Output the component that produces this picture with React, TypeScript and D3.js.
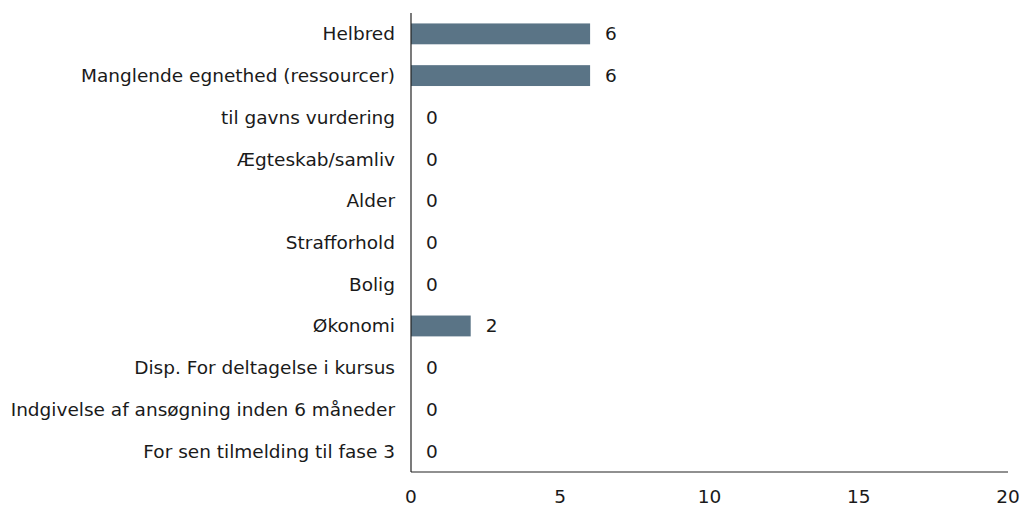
import React from 'react';
import { scaleBand, scaleLinear } from 'd3';

const categories = [
  'Helbred',
  'Manglende egnethed (ressourcer)',
  'til gavns vurdering',
  'Ægteskab/samliv',
  'Alder',
  'Strafforhold',
  'Bolig',
  'Økonomi',
  'Disp. For deltagelse i kursus',
  'Indgivelse af ansøgning inden 6 måneder',
  'For sen tilmelding til fase 3',
];
const values = [6, 6, 0, 0, 0, 0, 0, 2, 0, 0, 0];
const xTicks = [0, 5, 10, 15, 20];

const W = 1021;
const H = 509;
const FONT = 'Tahoma, "DejaVu Sans", sans-serif';
const FS = 18.5;

function App() {
  const x = scaleLinear().domain([0, 20]).range([411, 1008]);
  const y = scaleBand().domain(categories).range([13, 472]).paddingInner(0.5).paddingOuter(0.25);
  const bottom = 472;

  return (
    <svg width={W} height={H} style={{ position: 'absolute', left: 0, top: 0 }}>
      <rect width={W} height={H} fill="#fff" />
      {categories.map((c, i) => {
        const cy = y(c)! + y.bandwidth() / 2;
        return (
          <g key={c}>
            <rect x={x(0)} y={y(c)} width={x(values[i]) - x(0)} height={y.bandwidth()} fill="#5a7486" />
            <text x={395} y={cy} dy="0.35em" textAnchor="end" fontFamily={FONT} fontSize={FS} fill="#1a1a1a">
              {c}
            </text>
            <text x={x(values[i]) + 15} y={cy} dy="0.35em" fontFamily={FONT} fontSize={FS} fill="#1a1a1a">
              {values[i]}
            </text>
          </g>
        );
      })}
      <line x1={x(0)} x2={x(0)} y1={13} y2={bottom} stroke="#222" strokeWidth={1.2} />
      <line x1={x(0)} x2={x(20)} y1={bottom} y2={bottom} stroke="#222" strokeWidth={1.2} />
      {xTicks.map(t => (
        <text key={t} x={x(t)} y={497} dy="0.35em" textAnchor="middle" fontFamily={FONT} fontSize={FS} fill="#1a1a1a">
          {t}
        </text>
      ))}
    </svg>
  );
}

export default App;
